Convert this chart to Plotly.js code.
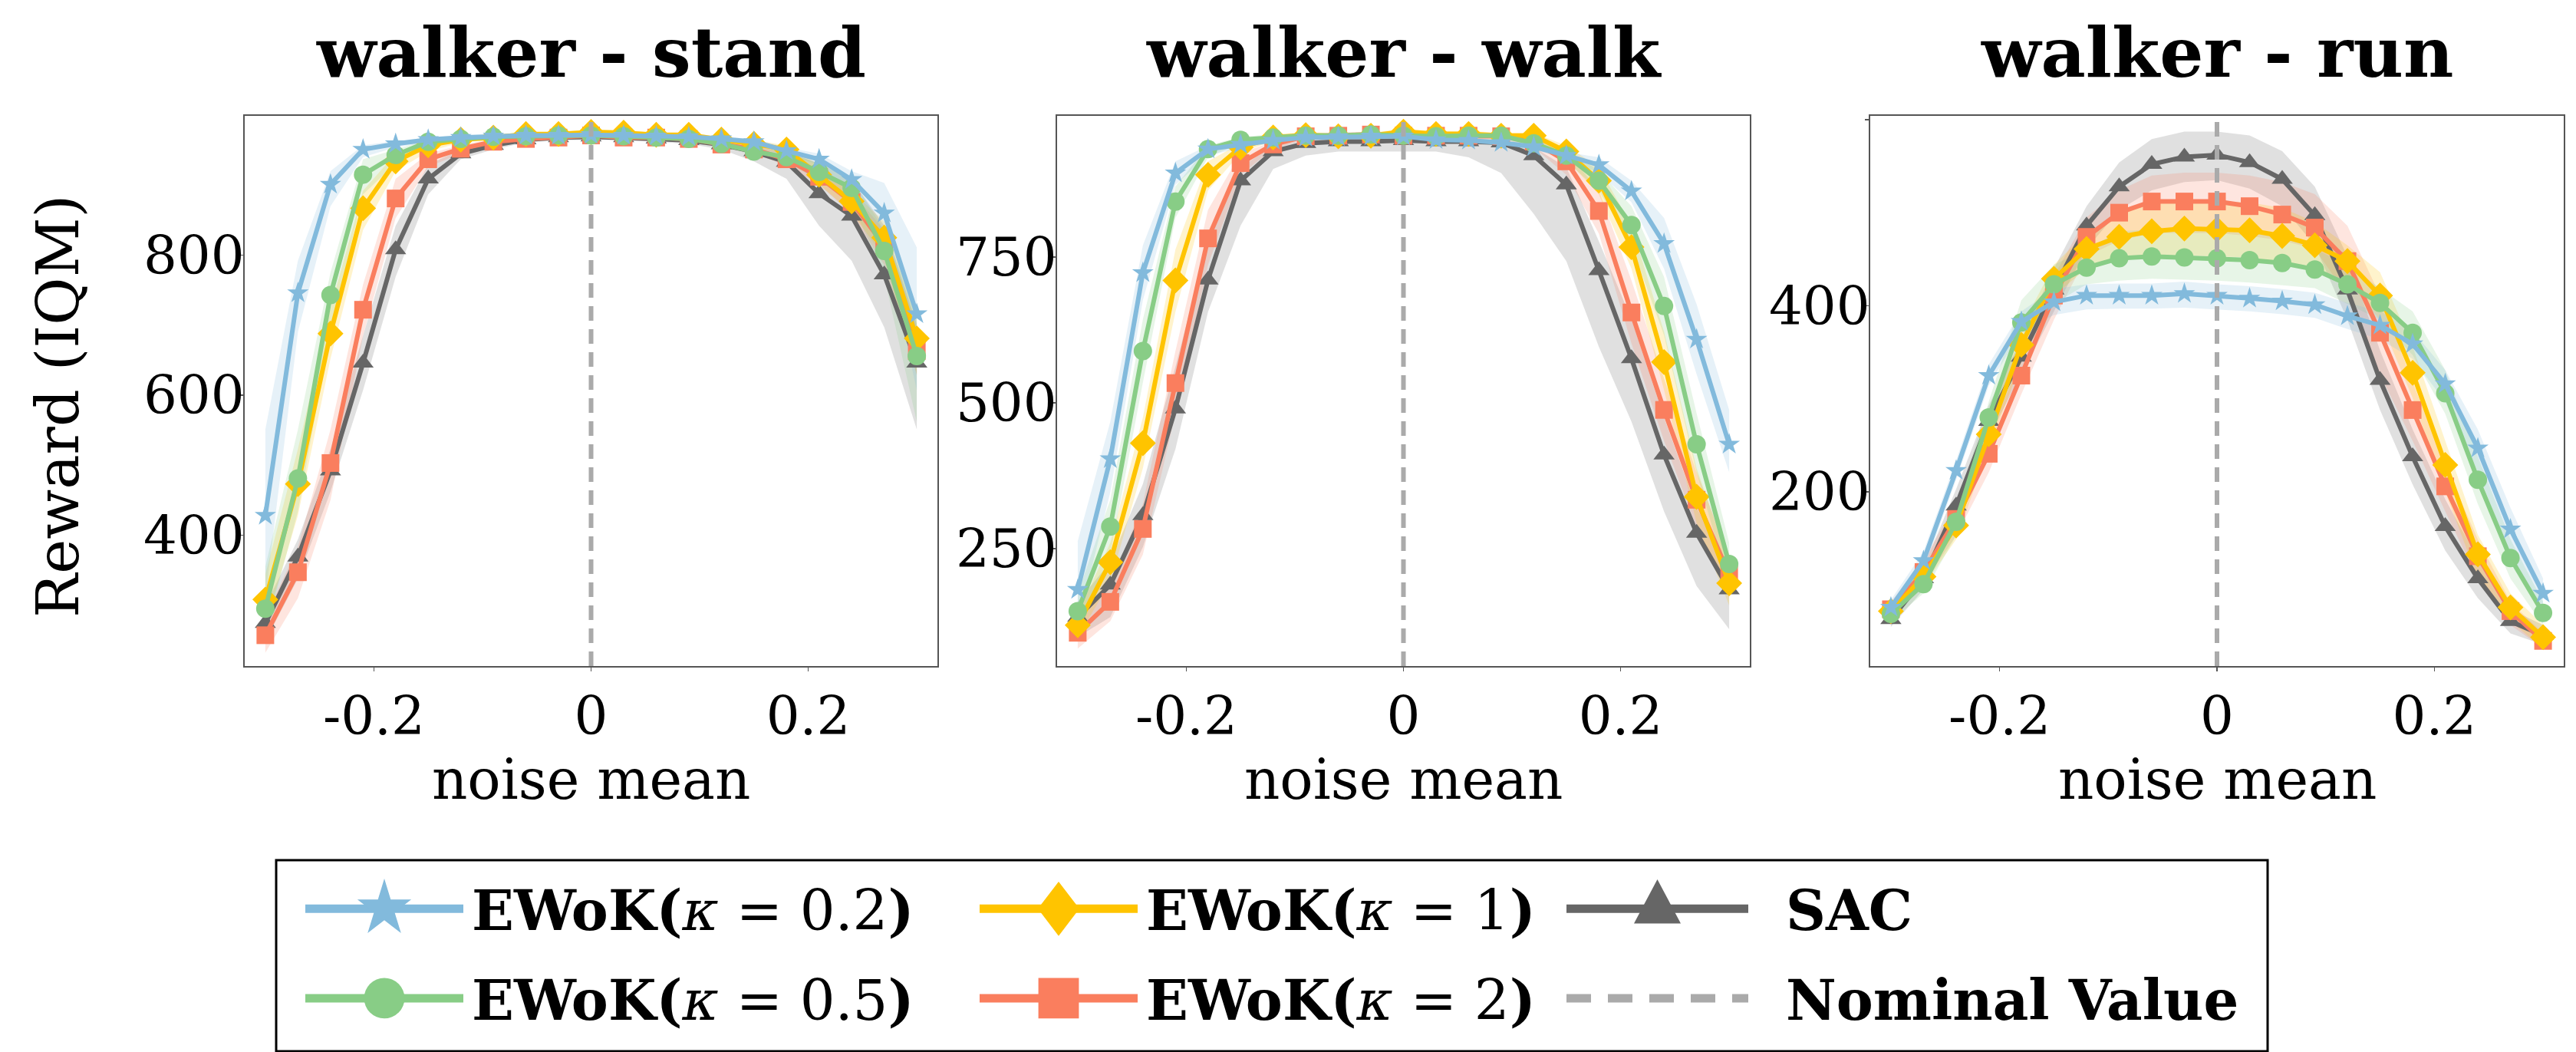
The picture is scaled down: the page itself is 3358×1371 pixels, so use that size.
<!DOCTYPE html>
<html>
<head>
<meta charset="utf-8">
<script src="https://cdn.plot.ly/plotly-3.0.1.min.js"></script>
<style>html,body{margin:0;padding:0;background:#fff;}#chart{width:3358px;height:1371px;}</style>
</head>
<body>
<div id="chart"></div>
<script>
// ---------------- DATA ----------------
const noiseMean = [-0.3,-0.27,-0.24,-0.21,-0.18,-0.15,-0.12,-0.09,-0.06,-0.03,0,0.03,0.06,0.09,0.12,0.15,0.18,0.21,0.24,0.27,0.3];
const nominalValue = 0;
const panelTitles = ['walker - stand', 'walker - walk', 'walker - run'];
const seriesNames = ['EWoK(κ = 0.2)', 'EWoK(κ = 0.5)', 'EWoK(κ = 1)', 'EWoK(κ = 2)', 'SAC'];
const xTickVals = [-0.2, 0, 0.2];
const xTickText = ['-0.2', '0', '0.2'];
const yTickVals = [[400, 600, 800], [250, 500, 750], [200, 400, 600]];
const yTickText = [['400', '600', '800'], ['250', '500', '750'], ['200', '400', '']];

// walker - stand
const standK02   = [428,746,901,951,959,965,968,970,971,971,972,971,970,969,966,962,949,937,908,860,716];
const standK02Lo = [310,690,870,940,954,961,965,967,968,968,969,968,967,966,963,958,944,929,892,819,607];
const standK02Hi = [551,792,920,957,963,968,971,973,974,974,975,974,973,972,969,966,954,945,920,903,811];
const standK05   = [295,481,743,915,943,962,966,969,970,971,971,970,968,966,959,948,940,919,896,806,656];
const standK05Lo = [260,434,691,887,931,957,963,966,967,968,968,967,965,963,955,943,933,906,876,769,562];
const standK05Hi = [355,551,775,937,951,965,969,972,973,974,974,973,971,969,963,953,947,931,909,836,719];
const standK1    = [308,473,688,867,934,957,965,968,973,973,976,975,972,972,965,959,951,915,877,825,681];
const standK1Lo  = [271,428,652,836,920,948,961,965,970,970,973,972,969,969,961,954,944,901,861,797,629];
const standK1Hi  = [344,523,724,892,945,962,969,971,976,976,979,978,975,975,969,964,957,929,892,848,719];
const standK2    = [257,347,503,722,881,937,952,962,966,968,971,968,968,966,958,951,937,912,876,814,663];
const standK2Lo  = [232,310,450,685,853,926,945,958,963,965,968,965,965,963,954,945,928,901,859,786,629];
const standK2Hi  = [283,383,551,758,909,945,957,966,969,971,974,971,971,969,962,957,945,923,890,836,697];
const standSAC   = [274,369,492,646,808,909,945,957,965,968,969,968,966,964,958,948,933,888,856,772,646];
const standSACLo = [249,338,462,607,769,887,937,951,961,964,965,964,962,959,951,934,909,842,792,697,551];
const standSACHi = [299,394,523,685,842,929,951,961,969,971,972,971,970,968,965,957,948,931,908,842,702];

// walker - walk
const walkK02   = [180,404,723,894,935,943,950,955,956,957,957,951,950,946,939,924,908,863,773,609,429];
const walkK02Lo = [120,347,676,874,924,937,945,950,951,952,952,946,945,941,934,918,894,844,730,549,381];
const walkK02Hi = [263,468,770,914,941,949,955,960,961,962,962,956,955,951,944,930,921,881,817,669,488];
const walkK05   = [143,288,589,845,935,951,955,958,958,960,958,957,958,958,945,924,881,805,666,429,224];
const walkK05Lo = [106,240,535,817,921,945,950,953,953,955,953,952,953,953,939,914,864,770,616,381,186];
const walkK05Hi = [173,334,643,871,941,956,960,963,963,965,963,962,963,963,951,934,898,837,716,482,260];
const walkK1    = [119,227,431,710,891,938,955,959,957,958,965,961,961,958,958,931,881,767,570,339,191];
const walkK1Lo  = [99,193,388,656,864,928,950,954,952,953,960,956,956,953,950,918,857,730,522,294,153];
const walkK1Hi  = [139,260,475,763,914,945,960,964,962,963,970,966,966,963,963,941,904,804,622,388,227];
const walkK2    = [106,159,284,534,782,911,943,957,958,960,958,958,958,957,948,914,829,655,488,334,206];
const walkK2Lo  = [79,126,240,482,737,891,935,952,953,955,953,953,953,950,938,891,790,602,435,287,166];
const walkK2Hi  = [126,186,327,589,831,928,948,962,963,965,963,963,963,962,955,931,864,710,542,381,240];
const walkSAC   = [133,188,307,490,711,881,931,945,948,948,950,948,948,946,924,874,727,576,411,277,180];
const walkSACLo = [99,133,253,421,656,804,901,924,931,931,931,931,921,894,824,743,596,468,314,186,112];
const walkSACHi = [159,227,361,562,777,904,941,951,953,953,955,953,953,951,938,904,777,643,475,320,220];

// walker - run
const runK02   = [76,126,223,325,383,404,411,411,411,413,411,408,405,401,389,379,359,316,247,160,91];
const runK02Lo = [68,116,213,314,373,390,396,397,397,398,396,394,391,387,375,364,343,297,221,133,74];
const runK02Hi = [84,136,234,337,394,418,423,424,424,426,423,421,418,414,403,394,373,331,267,183,107];
const runK05   = [69,101,168,280,382,423,441,451,453,452,451,449,446,439,423,403,371,306,213,129,70];
const runK05Lo = [61,91,153,263,360,402,423,427,429,428,427,425,422,419,402,385,347,284,187,107,57];
const runK05Hi = [77,111,183,297,406,444,461,480,482,481,480,478,475,461,444,419,394,331,238,149,82];
const runK1    = [72,109,164,262,358,429,461,474,480,483,482,481,475,465,448,411,328,229,133,76,44];
const runK1Lo  = [64,99,149,246,339,411,440,450,451,454,453,452,446,440,427,385,301,200,107,61,32];
const runK1Hi  = [80,119,179,280,377,444,478,498,510,513,512,511,505,490,465,436,356,255,154,91,57];
const runK2    = [74,114,171,241,325,411,474,500,512,512,512,507,498,484,448,371,288,206,131,72,40];
const runK2Lo  = [66,102,153,221,305,385,453,470,478,478,478,475,470,461,411,326,255,179,107,57,32];
const runK2Hi  = [82,126,189,259,343,432,495,524,540,543,543,540,533,520,486,411,318,229,149,82,48];
const runSAC   = [63,107,185,276,345,417,486,528,552,560,562,554,536,497,417,320,238,163,107,61,46];
const runSACLo = [55,95,167,259,326,394,461,503,524,533,535,526,507,465,385,288,208,137,86,48,36];
const runSACHi = [71,119,203,293,364,440,507,554,579,587,587,583,566,528,453,352,267,192,128,74,57];

// ---------------- STYLE ----------------
const W = 3358, H = 1371;
const px = v => v / W;
const py = v => 1 - v / H;
const FONT = 'DejaVu Serif';
const styles = [
  {color: '#82BADC', rgb: '130,186,220', symbol: 'star', size: 21, legend: 'legend', rank: 1, lsx: 3.3, lsy: 3.5},
  {color: '#88CD86', rgb: '136,205,134', symbol: 'circle', size: 24, legend: 'legend', rank: 2, lsx: 3.3, lsy: 3.3},
  {color: '#FFC400', rgb: '255,196,0', symbol: 'diamond', size: 26, legend: 'legend2', rank: 3, lsx: 2.6, lsy: 3.4},
  {color: '#FA7E5E', rgb: '250,126,94', symbol: 'square', size: 23, legend: 'legend2', rank: 4, lsx: 3.3, lsy: 3.3},
  {color: '#666666', rgb: '102,102,102', symbol: 'triangle-up', size: 24, legend: 'legend3', rank: 5, lsx: 3.3, lsy: 4.8}
];
const legendLabels = [
  '<b>EWoK(</b><i>κ</i> = 0.2<b>)</b>',
  '<b>EWoK(</b><i>κ</i> = 0.5<b>)</b>',
  '<b>EWoK(</b><i>κ</i> = 1<b>)</b>',
  '<b>EWoK(</b><i>κ</i> = 2<b>)</b>',
  '<b>SAC</b>'
];
const panels = [
  {means: [standK02, standK05, standK1, standK2, standSAC], lo: [standK02Lo, standK05Lo, standK1Lo, standK2Lo, standSACLo], hi: [standK02Hi, standK05Hi, standK1Hi, standK2Hi, standSACHi]},
  {means: [walkK02, walkK05, walkK1, walkK2, walkSAC], lo: [walkK02Lo, walkK05Lo, walkK1Lo, walkK2Lo, walkSACLo], hi: [walkK02Hi, walkK05Hi, walkK1Hi, walkK2Hi, walkSACHi]},
  {means: [runK02, runK05, runK1, runK2, runSAC], lo: [runK02Lo, runK05Lo, runK1Lo, runK2Lo, runSACLo], hi: [runK02Hi, runK05Hi, runK1Hi, runK2Hi, runSACHi]}
];
const yRanges = [[213, 999], [49, 992], [13, 604]];
const xRange = [-0.319, 0.319];
const xDomains = [[px(319), px(1222)], [px(1378), px(2281)], [px(2438), px(3342)]];
const yDomain = [py(868), py(151)];

const traces = [];
panels.forEach((p, pi) => {
  const xa = 'x' + (pi === 0 ? '' : pi + 1), ya = 'y' + (pi === 0 ? '' : pi + 1);
  // bands first (below all lines)
  for (let s = 4; s >= 0; s--) {
    traces.push({
      x: noiseMean.concat(noiseMean.slice().reverse()),
      y: p.hi[s].concat(p.lo[s].slice().reverse()),
      type: 'scatter', mode: 'lines', fill: 'toself',
      fillcolor: 'rgba(' + styles[s].rgb + ',0.2)', line: {width: 0},
      xaxis: xa, yaxis: ya, showlegend: false, hoverinfo: 'skip'
    });
  }
  // lines: SAC at bottom, kappa=0.2 on top
  for (let s = 4; s >= 0; s--) {
    traces.push({
      x: noiseMean, y: p.means[s], type: 'scatter', mode: 'lines+markers',
      name: seriesNames[s],
      line: {color: styles[s].color, width: 6},
      marker: {symbol: styles[s].symbol, size: styles[s].size, color: styles[s].color, line: {width: 0}},
      xaxis: xa, yaxis: ya,
      showlegend: pi === 0, legend: styles[s].legend, legendrank: styles[s].rank,
      legendgroup: 'g' + s
    });
  }
  traces.push({
    x: [nominalValue, nominalValue], y: yRanges[pi], type: 'scatter', mode: 'lines',
    name: 'Nominal Value',
    line: {color: '#AAAAAA', width: 6, dash: '19px,11px'},
    xaxis: xa, yaxis: ya, showlegend: pi === 0, legend: 'legend3', legendrank: 6,
    legendgroup: 'gn', hoverinfo: 'skip'
  });
});
// legend label text
traces.forEach(t => {
  if (t.showlegend) {
    const idx = seriesNames.indexOf(t.name);
    t.name = idx >= 0 ? legendLabels[idx] : '<b>Nominal Value</b>';
  }
});

const axisCommon = {
  showline: true, mirror: true, linecolor: '#555555', linewidth: 1.6,
  ticks: 'outside', ticklen: 5, tickwidth: 1.6, tickcolor: '#555555',
  showgrid: false, zeroline: false,
  tickfont: {family: FONT, size: 69, color: '#000'}
};
const layout = {
  width: W, height: H, autosize: false,
  margin: {l: 0, r: 0, t: 0, b: 0},
  paper_bgcolor: '#fff', plot_bgcolor: '#fff',
  font: {family: FONT, color: '#000'},
  annotations: [],
  shapes: [{type: 'rect', xref: 'paper', yref: 'paper', x0: px(360), x1: px(2956), y0: py(1370), y1: py(1121),
            line: {color: '#000', width: 3}, fillcolor: 'rgba(0,0,0,0)'}]
};
for (let i = 0; i < 3; i++) {
  const sfx = i === 0 ? '' : String(i + 1);
  layout['xaxis' + sfx] = Object.assign({}, axisCommon, {
    domain: xDomains[i], range: xRange, anchor: 'y' + sfx,
    tickvals: xTickVals, ticktext: xTickText, ticklabelstandoff: 0
  });
  layout['yaxis' + sfx] = Object.assign({}, axisCommon, {
    domain: yDomain, range: yRanges[i], anchor: 'x' + sfx,
    tickvals: yTickVals[i], ticktext: yTickText[i], ticklabelstandoff: -20
  });
  const cx = (xDomains[i][0] + xDomains[i][1]) / 2;
  layout.annotations.push({text: '<b>' + panelTitles[i] + '</b>', xref: 'paper', yref: 'paper', x: cx, y: py(68),
    xanchor: 'center', yanchor: 'middle', showarrow: false, font: {family: FONT, size: 90, color: '#000'}});
  layout.annotations.push({text: 'noise mean', xref: 'paper', yref: 'paper', x: cx, y: py(1016),
    xanchor: 'center', yanchor: 'middle', showarrow: false, font: {family: FONT, size: 72, color: '#000'}});
}
layout.annotations.push({text: 'Reward (IQM)', xref: 'paper', yref: 'paper', x: px(75), y: py(530), textangle: -90,
  xanchor: 'center', yanchor: 'middle', showarrow: false, font: {family: FONT, size: 76, color: '#000'}});

const legendCommon = {
  orientation: 'v', xanchor: 'left', yanchor: 'top', y: py(1131),
  bgcolor: 'rgba(0,0,0,0)', borderwidth: 0, traceorder: 'grouped', tracegroupgap: 20,
  font: {family: FONT, size: 72, color: '#000'}
};
layout.legend  = Object.assign({}, legendCommon, {x: px(393), itemwidth: 212});
layout.legend2 = Object.assign({}, legendCommon, {x: px(1272), itemwidth: 212});
layout.legend3 = Object.assign({}, legendCommon, {x: px(2037), itemwidth: 281});

const legendGlyph = {legend: {len: 206}, legend2: {len: 206}, legend3: {len: 237}};
function enlargeLegendGlyphs() {
  Object.keys(legendGlyph).forEach(id => {
    const g = document.querySelector('g.' + id);
    if (!g) return;
    const cfg = legendGlyph[id];
    g.querySelectorAll('g.traces').forEach(tr => {
      const d = tr.__data__;
      const tname = (d && d[0] && d[0].trace) ? d[0].trace.name : '';
      const isNominal = tname.indexOf('Nominal') >= 0;
      const si = legendLabels.indexOf(tname);
      const sx = si >= 0 ? styles[si].lsx : 3.3, sy = si >= 0 ? styles[si].lsy : 3.3;
      tr.querySelectorAll('g.legendlines path').forEach(p => {
        p.setAttribute('d', 'M5,0h' + cfg.len);
        p.style.strokeWidth = '11px';
        if (isNominal) p.style.strokeDasharray = '32px,22px';
      });
      tr.querySelectorAll('g.legendsymbols path').forEach(p => {
        p.setAttribute('transform', 'translate(' + (5 + cfg.len / 2) + ',0) scale(' + sx + ',' + sy + ')');
      });
    });
  });
}
Plotly.newPlot('chart', traces, layout, {staticPlot: true, responsive: false, displayModeBar: false})
  .then(enlargeLegendGlyphs);
</script>
</body>
</html>
